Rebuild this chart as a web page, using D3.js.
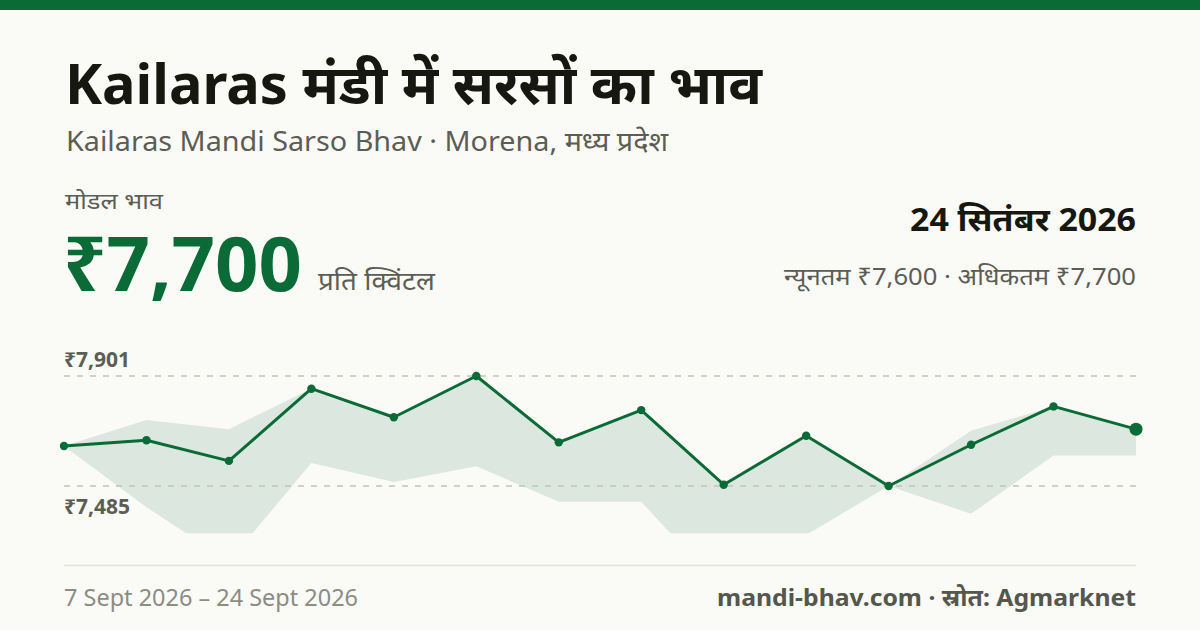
<!DOCTYPE html>
<html>
<head>
<meta charset="utf-8">
<script src="https://cdn.jsdelivr.net/npm/d3@7"></script>
<style>
  html, body { margin: 0; padding: 0; background: #fafaf6; }
  svg { display: block; font-family: "Noto Sans", "Noto Sans Devanagari", sans-serif; }
</style>
</head>
<body>
<svg id="chart" width="1200" height="630"></svg>
<script>
// ---- data ----
const dates = ["7 Sept","8 Sept","9 Sept","10 Sept","11 Sept","12 Sept","14 Sept","15 Sept","16 Sept","17 Sept","19 Sept","21 Sept","22 Sept","24 Sept"];
const modalPrice = [7636, 7658, 7580, 7853, 7745, 7901, 7650, 7772, 7490, 7675, 7485, 7641, 7786, 7700];
const maxPrice   = [7636, 7735, 7700, 7853, 7745, 7901, 7650, 7772, 7490, 7675, 7485, 7694, 7786, 7700];
const minPrice   = [7636, 7405, 7200, 7572, 7500, 7560, 7425, 7425, 7090, 7300, 7485, 7380, 7600, 7600];
const title = "Kailaras मंडी में सरसों का भाव";
const subtitle = "Kailaras Mandi Sarso Bhav · Morena, मध्य प्रदेश";
const modalLabel = "मोडल भाव";
const unitLabel = "प्रति क्विंटल";
const dateLabel = "24 सितंबर 2026";
const rangeLabel = "न्यूनतम ₹7,600 · अधिकतम ₹7,700";
const periodLabel = "7 Sept 2026 – 24 Sept 2026";
const sourceLabel = "mandi-bhav.com · स्रोत: Agmarknet";

// ---- layout ----
const W = 1200, H = 630;
const left = 64, right = 1136;
const plotTop = 328.7, plotBottom = 533.3;
const green = "#0b6b37";
const svg = d3.select("#chart");

svg.append("rect").attr("width", W).attr("height", H).attr("fill", "#fafaf6");
svg.append("rect").attr("width", W).attr("height", 10).attr("fill", green);

const fmt = v => "₹" + d3.format(",")(v);

function txt(str, xPos, yPos, size, opts = {}) {
  const t = svg.append("text").attr("x", xPos).attr("y", yPos).attr("font-size", size)
    .attr("font-weight", opts.bold ? 700 : 400).attr("fill", opts.fill || "#5c5e55")
    .attr("text-anchor", opts.anchor || "start").text(str);
  if (opts.len) t.attr("textLength", opts.len).attr("lengthAdjust", "spacingAndGlyphs");
  return t;
}

txt(title, 65, 104, 55, { bold: true, fill: "#16180f", len: 697 });
txt(subtitle, 66, 151, 27, { len: 602 });

txt(modalLabel, 65, 209, 22, { len: 98 });
const last = modalPrice[modalPrice.length - 1];
txt(fmt(last), 63, 291, 76, { bold: true, fill: green });
txt(unitLabel, 318, 290, 26, { len: 117 });

txt(dateLabel, right, 231, 32, { bold: true, fill: "#16180f", anchor: "end", len: 226 });
txt(rangeLabel, right, 285, 24, { anchor: "end", len: 352 });

// ---- scales ----
const x = d3.scalePoint().domain(dates).range([left, right]);
const mMax = d3.max(modalPrice), mMin = d3.min(modalPrice);
const pad = (mMax - mMin) * 0.43;
const y = d3.scaleLinear().domain([mMin - pad, mMax + pad]).range([plotBottom, plotTop]);

svg.append("clipPath").attr("id", "plotclip").append("rect")
  .attr("x", left).attr("y", plotTop).attr("width", right - left).attr("height", plotBottom - plotTop);

const rows = dates.map((d, i) => ({ d, modal: modalPrice[i], lo: minPrice[i], hi: maxPrice[i] }));

svg.append("path").datum(rows).attr("clip-path", "url(#plotclip)")
  .attr("fill", green).attr("fill-opacity", 0.12)
  .attr("d", d3.area().x(r => x(r.d)).y0(r => y(r.lo)).y1(r => y(r.hi)));

// gridlines at modal max/min
[mMax, mMin].forEach(v => {
  svg.append("line").attr("x1", left).attr("x2", right).attr("y1", y(v)).attr("y2", y(v))
    .attr("stroke", "#c2c2ba").attr("stroke-width", 1.5).attr("stroke-dasharray", "6,7");
});
txt(fmt(mMax), 64, y(mMax) - 9.5, 21, { bold: true });
txt(fmt(mMin), 64, y(mMin) + 27.5, 21, { bold: true });

svg.append("path").datum(rows).attr("fill", "none").attr("stroke", green).attr("stroke-width", 3)
  .attr("stroke-linejoin", "round")
  .attr("d", d3.line().x(r => x(r.d)).y(r => y(r.modal)));

svg.selectAll("circle.pt").data(rows).join("circle").attr("class", "pt")
  .attr("cx", r => x(r.d)).attr("cy", r => y(r.modal))
  .attr("r", (r, i) => i === rows.length - 1 ? 6.5 : 4.2).attr("fill", green);

// baseline and footer
svg.append("line").attr("x1", left).attr("x2", right).attr("y1", 565.5).attr("y2", 565.5)
  .attr("stroke", "#e2e2da").attr("stroke-width", 1.5);
txt(periodLabel, 64, 606, 23.5, { fill: "#8c8d83", len: 294 });
txt(sourceLabel, right, 606, 23.5, { bold: true, fill: "#55574d", anchor: "end", len: 419 });
</script>
</body>
</html>
